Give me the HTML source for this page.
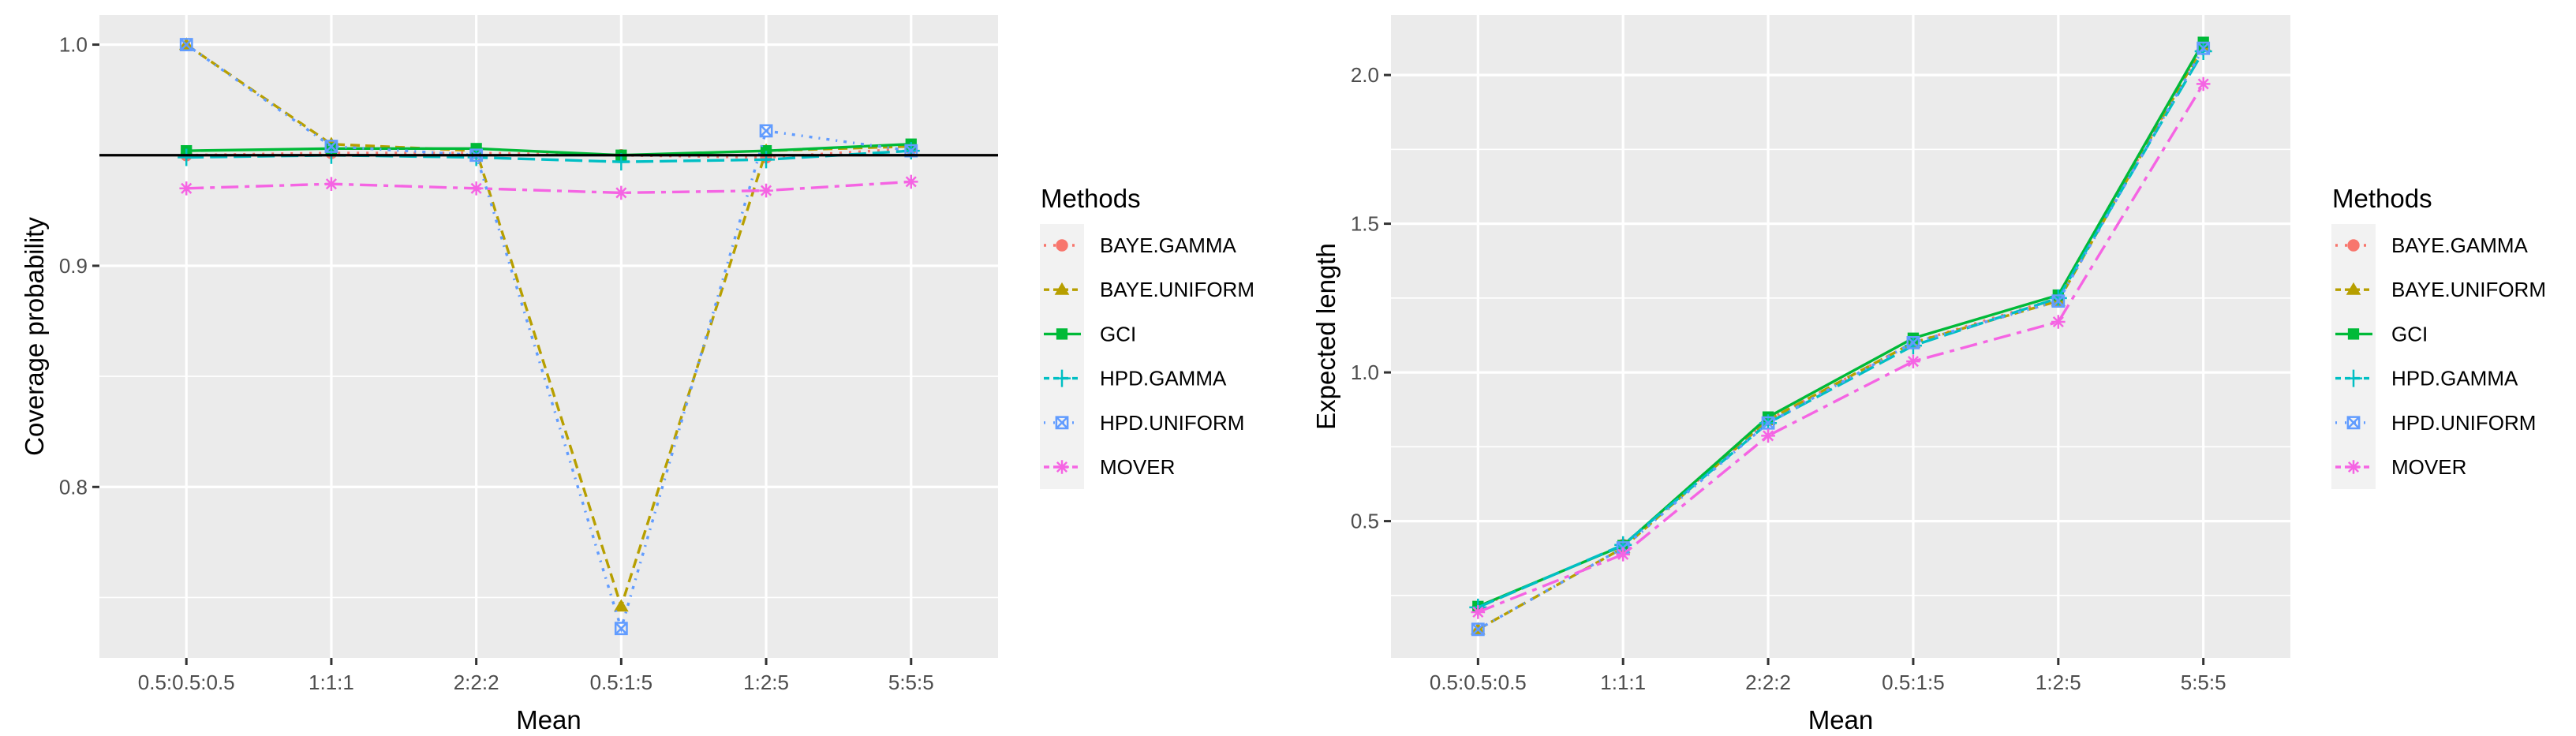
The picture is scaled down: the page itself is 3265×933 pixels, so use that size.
<!DOCTYPE html>
<html><head><meta charset="utf-8">
<style>
html,body{margin:0;padding:0;background:#fff;}
svg{display:block;font-family:"Liberation Sans",sans-serif;}
</style></head>
<body>
<svg id="chart" width="3265" height="933" viewBox="0 0 3265 933" xmlns="http://www.w3.org/2000/svg">
<rect width="3265" height="933" fill="#fff"/>
<g id="left"></g>
<g id="right"></g>
</svg>
<script>
const categories = ["0.5:0.5:0.5","1:1:1","2:2:2","0.5:1:5","1:2:5","5:5:5"];
const methods = ["BAYE.GAMMA","BAYE.UNIFORM","GCI","HPD.GAMMA","HPD.UNIFORM","MOVER"];
const coverageBayeGamma   = [0.950,0.951,0.951,0.950,0.949,0.953];
const coverageBayeUniform = [1.000,0.955,0.952,0.746,0.952,0.954];
const coverageGci         = [0.952,0.953,0.953,0.950,0.952,0.955];
const coverageHpdGamma    = [0.949,0.950,0.949,0.947,0.948,0.952];
const coverageHpdUniform  = [1.000,0.954,0.950,0.736,0.961,0.952];
const coverageMover       = [0.935,0.937,0.935,0.933,0.934,0.938];
const lengthBayeGamma   = [0.21,0.42,0.84,1.10,1.25,2.10];
const lengthBayeUniform = [0.136,0.41,0.84,1.10,1.24,2.10];
const lengthGci         = [0.213,0.418,0.85,1.115,1.26,2.11];
const lengthHpdGamma    = [0.21,0.42,0.83,1.09,1.25,2.08];
const lengthHpdUniform  = [0.136,0.41,0.83,1.10,1.24,2.09];
const lengthMover       = [0.194,0.388,0.787,1.037,1.17,1.97];
const coverageTicks = [0.8,0.9,1.0];
const coverageTickLabels = ["0.8","0.9","1.0"];
const coverageMinor = [0.75,0.85,0.95];
const lengthTicks = [0.5,1.0,1.5,2.0];
const lengthTickLabels = ["0.5","1.0","1.5","2.0"];
const lengthMinor = [0.25,0.75,1.25,1.75];
const referenceLevel = 0.95;

const colors = ["#F8766D","#B79F00","#00BA38","#00BFC4","#619CFF","#F564E3"];
const dashes = ["3,9","12,7","","22,8","2,8,4,8","22,8,6,8"];
const NS="http://www.w3.org/2000/svg";
function mk(tag,attrs,parent){const e=document.createElementNS(NS,tag);for(const k in attrs)e.setAttribute(k,attrs[k]);parent.appendChild(e);return e;}

function marker(g,i,x,y,c){
  const s=11;
  if(i===0){mk('circle',{cx:x,cy:y,r:s*0.7,fill:c},g);}
  else if(i===1){mk('polygon',{points:`${x},${y-s*0.85} ${x+s*0.85},${y+s*0.6} ${x-s*0.85},${y+s*0.6}`,fill:c},g);}
  else if(i===2){mk('rect',{x:x-s*0.65,y:y-s*0.65,width:s*1.3,height:s*1.3,fill:c},g);}
  else if(i===3){mk('path',{d:`M${x-s},${y}H${x+s}M${x},${y-s}V${x===x?y+s:0}`,stroke:c,'stroke-width':2.5,fill:'none'},g);}
  else if(i===4){const h=s*0.65;mk('path',{d:`M${x-h},${y-h}h${2*h}v${2*h}h${-2*h}zM${x-h},${y-h}L${x+h},${y+h}M${x+h},${y-h}L${x-h},${y+h}`,stroke:c,'stroke-width':2.5,fill:'none'},g);}
  else {const h=s*0.8;mk('path',{d:`M${x-h},${y}H${x+h}M${x},${y-h}V${y+h}M${x-h*0.7},${y-h*0.7}L${x+h*0.7},${y+h*0.7}M${x+h*0.7},${y-h*0.7}L${x-h*0.7},${y+h*0.7}`,stroke:c,'stroke-width':2.5,fill:'none'},g);}
}

function panel(gid,px0,px1,py0,py1,ymin,ymax,ticks,tickLabels,minor,series,ytitle,hline,legX){
  const g=document.getElementById(gid);
  const w=px1-px0, n=categories.length, step=w/(n-1+1.2);
  const xs=i=>px0+step*(0.6+i);
  const ys=v=>py1-(v-ymin)/(ymax-ymin)*(py1-py0);
  const bg=mk('rect',{x:px0,y:py0,width:w,height:py1-py0,fill:'#EBEBEB'},g);
  
  
  minor.forEach(v=>{const l=mk('line',{x1:px0,x2:px1,y1:ys(v),y2:ys(v),stroke:'#fff','stroke-width':1.6},g);
    
    });
  ticks.forEach((v,i)=>{const l=mk('line',{x1:px0,x2:px1,y1:ys(v),y2:ys(v),stroke:'#fff','stroke-width':3.2},g);
    
    
    mk('line',{x1:px0-9,x2:px0,y1:ys(v),y2:ys(v),stroke:'#333','stroke-width':3},g);
    const t=mk('text',{x:px0-15,y:ys(v)+9,'text-anchor':'end','font-size':26,fill:'#4D4D4D'},g);t.textContent=tickLabels[i];
    
    });
  categories.forEach((c,i)=>{const l=mk('line',{x1:xs(i),x2:xs(i),y1:py0,y2:py1,stroke:'#fff','stroke-width':3.2},g);
    
    
    mk('line',{x1:xs(i),x2:xs(i),y1:py1,y2:py1+9,stroke:'#333','stroke-width':3},g);
    const t=mk('text',{x:xs(i),y:py1+40,'text-anchor':'middle','font-size':26,fill:'#4D4D4D'},g);t.textContent=c;
    
    });
  series.forEach((vals,si)=>{
    const d=vals.map((v,i)=>(i?'L':'M')+xs(i)+','+ys(v)).join('');
    const p=mk('path',{d:d,fill:'none',stroke:colors[si],'stroke-width':3.4},g);
    if(dashes[si])p.setAttribute('stroke-dasharray',dashes[si]);
    
    
    const mg=mk('g',{},g);
    
    
    vals.forEach((v,i)=>marker(mg,si,xs(i),ys(v),colors[si]));
  });
  if(hline!==null){const l=mk('line',{x1:px0,x2:px1,y1:ys(hline),y2:ys(hline),stroke:'#000','stroke-width':3.2},g);
    
    }
  const xt=mk('text',{x:(px0+px1)/2,y:924,'text-anchor':'middle','font-size':33,fill:'#000'},g);xt.textContent='Mean';
  
  
  const cy=(py0+py1)/2, cx=px0-(gid==='left'?71:71);
  const yt=mk('text',{x:cx,y:cy,'text-anchor':'middle','font-size':33,fill:'#000',transform:`rotate(-90 ${cx} ${cy})`},g);yt.textContent=ytitle;
  
  
  // legend
  const lg=mk('g',{},g);
  
  
  const tt=mk('text',{x:legX,y:263,'font-size':33,fill:'#000'},lg);tt.textContent='Methods';
  
  
  mk('rect',{x:legX-1,y:284,width:56,height:336,fill:'#F2F2F2'},lg);
  methods.forEach((m,i)=>{
    const y=311+i*56.2, e=mk('g',{},lg);
    
    
    const l=mk('line',{x1:legX+4,x2:legX+51,y1:y,y2:y,stroke:colors[i],'stroke-width':3.4},e);
    if(dashes[i])l.setAttribute('stroke-dasharray',i===0?'3,9':i===4?'2,10':'7,5');
    marker(e,i,legX+27,y,colors[i]);
    const t=mk('text',{x:legX+75,y:y+9,'font-size':26,fill:'#000'},e);t.textContent=m;
  });
}
panel('left',126,1265,19,834,0.7227,1.0134,coverageTicks,coverageTickLabels,coverageMinor,
  [coverageBayeGamma,coverageBayeUniform,coverageGci,coverageHpdGamma,coverageHpdUniform,coverageMover],
  'Coverage probability',referenceLevel,1319);
panel('right',1763,2903,19,834,0.5-(834-660.6)/377,0.5+(660.6-19)/377,lengthTicks,lengthTickLabels,lengthMinor,
  [lengthBayeGamma,lengthBayeUniform,lengthGci,lengthHpdGamma,lengthHpdUniform,lengthMover],
  'Expected length',null,2956);
</script>
</body></html>
